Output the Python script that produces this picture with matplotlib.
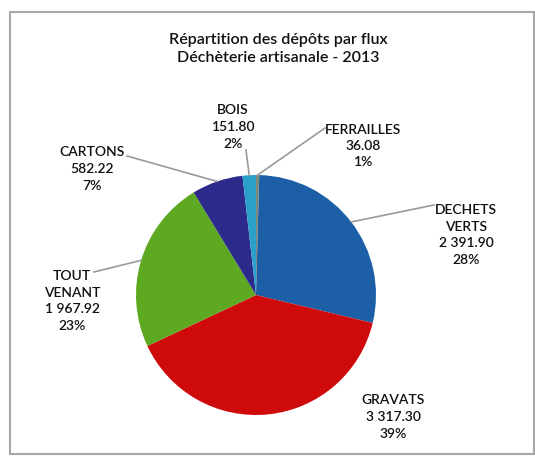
import numpy as np
import matplotlib
matplotlib.use("Agg")
import matplotlib.pyplot as plt
from matplotlib.patches import Rectangle

# =========================
# Données
# =========================
categories = ["FERRAILLES", "DECHETS\nVERTS", "GRAVATS", "TOUT\nVENANT", "CARTONS", "BOIS"]
tonnages = [36.08, 2391.90, 3317.30, 1967.92, 582.22, 151.80]
tonnage_labels = ["36.08", "2 391.90", "3 317.30", "1 967.92", "582.22", "151.80"]
pct_labels = ["1%", "28%", "39%", "23%", "7%", "2%"]
colors = ["#7d8a78", "#1c5fa7", "#cf0a0a", "#5ea922", "#2c2a8a", "#2ba0cb"]

title = "Répartition des dépôts par flux\nDéchèterie artisanale - 2013"

# =========================
# Mise en page (pixels, y vers le haut)
# =========================
W, H = 535, 459
CX, CY, R = 256, H - 295, 120
# position du texte de chaque étiquette et point de départ du trait
label_pos = [(363, H - 146), (466, H - 235), (393, H - 417), (72, H - 301), (92, H - 169), (233, H - 127)]
line_end = [(325, H - 128), (434, H - 205), None, (94, H - 272), (127, H - 156), (246, H - 150)]

plt.rcParams["font.family"] = ["Lato", "DejaVu Sans"]

fig = plt.figure(figsize=(W / 100, H / 100), dpi=100)
ax = fig.add_axes([0, 0, 1, 1])

wedges, _ = ax.pie(tonnages, colors=colors, startangle=90, counterclock=False,
                   center=(CX, CY), radius=R, frame=True,
                   wedgeprops=dict(edgecolor="none"))
ax.set_xlim(0, W)
ax.set_ylim(0, H)
ax.set_aspect("equal")
ax.axis("off")

# cadre du graphique
ax.add_patch(Rectangle((10, H - 454), 524, 442, fill=False, edgecolor="#a8a8a8", lw=1.5))

for w, cat, val, pct, pos, end in zip(wedges, categories, tonnage_labels, pct_labels, label_pos, line_end):
    ax.text(pos[0], pos[1], f"{cat}\n{val}\n{pct}", ha="center", va="center",
            fontsize=10, fontweight=600, color="#111111", linespacing=1.45)
    if end is not None:
        mid = np.deg2rad((w.theta1 + w.theta2) / 2)
        px, py = CX + R * np.cos(mid), CY + R * np.sin(mid)
        ax.plot([px, end[0]], [py, end[1]], color="#9a9a9a", lw=1.2)

ax.text(278, H - 49, title, ha="center", va="center", fontsize=11.5, fontweight=600,
        color="#111111", linespacing=1.3)

fig.savefig("out.png", dpi=100)
